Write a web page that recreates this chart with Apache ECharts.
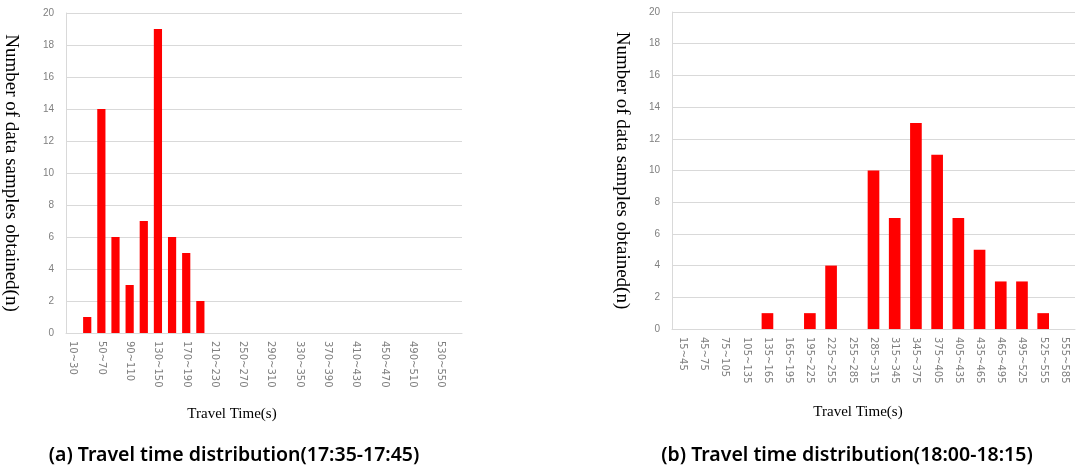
<!DOCTYPE html>
<html>
<head>
<meta charset="utf-8">
<script src="https://cdn.jsdelivr.net/npm/echarts@6/dist/echarts.min.js"></script>
<style>
  html, body { margin: 0; padding: 0; background: #fff; }
  #chart { width: 1076px; height: 468px; }
</style>
</head>
<body>
<div id="chart"></div>
<script>
// (a) 17:35-17:45, bins of 20 s (last bin carries no label)
const binsA = ["10~30", "30~50", "50~70", "70~90", "90~110", "110~130", "130~150", "150~170",
  "170~190", "190~210", "210~230", "230~250", "250~270", "270~290", "290~310", "310~330",
  "330~350", "350~370", "370~390", "390~410", "410~430", "430~450", "450~470", "470~490",
  "490~510", "510~530", "530~550", "550~570"];
const countsA = [0, 1, 14, 6, 3, 7, 19, 6, 5, 2, 0, 0, 0, 0, 0, 0, 0, 0, 0, 0, 0, 0, 0, 0, 0, 0, 0, 0];

// (b) 18:00-18:15, bins of 30 s
const binsB = ["15~45", "45~75", "75~105", "105~135", "135~165", "165~195", "195~225", "225~255",
  "255~285", "285~315", "315~345", "345~375", "375~405", "405~435", "435~465", "465~495",
  "495~525", "525~555", "555~585"];
const countsB = [0, 0, 0, 0, 1, 0, 1, 4, 0, 10, 7, 13, 11, 7, 5, 3, 3, 1, 0];

const yTicks = { min: 0, max: 20, interval: 2 };
const captions = ["(a) Travel time distribution(17:35-17:45)", "(b) Travel time distribution(18:00-18:15)"];

const chart = echarts.init(document.getElementById("chart"));

const gray = "#d9d9d9";
const labelGray = "#7f7f7f";
const serif = "'Liberation Serif', 'DejaVu Serif', serif";

function xAxisFor(idx, cats, every) {
  return {
    type: "category",
    gridIndex: idx,
    data: cats,
    axisTick: { show: false },
    axisLine: { lineStyle: { color: gray } },
    axisLabel: {
      rotate: -90,
      interval: every,
      color: labelGray,
      fontSize: 10,
      fontFamily: "'DejaVu Sans', sans-serif",
      margin: 8,
    },
  };
}

function yAxisFor(idx, gap) {
  return {
    type: "value",
    gridIndex: idx,
    ...yTicks,
    name: "Number of data samples obtained(n)",
    nameLocation: "middle",
    nameRotate: -90,
    nameGap: gap,
    nameTextStyle: { fontFamily: serif, fontSize: 19, color: "#000" },
    axisLine: { show: true, lineStyle: { color: gray } },
    axisTick: { show: false },
    splitLine: { lineStyle: { color: gray } },
    axisLabel: { color: labelGray, fontSize: 10, margin: 12 },
  };
}

function barSeries(idx, values, width) {
  return {
    type: "bar",
    xAxisIndex: idx,
    yAxisIndex: idx,
    data: values,
    barWidth: width,
    itemStyle: { color: "#ff0000" },
  };
}

chart.setOption({
  animation: false,
  grid: [
    { left: 64, right: 614, top: 13, bottom: 135 },
    { left: 672, right: 1, top: 12, bottom: 139 },
  ],
  xAxis: [xAxisFor(0, binsA, 1), xAxisFor(1, binsB, 0)],
  yAxis: [yAxisFor(0, 46), yAxisFor(1, 41)],
  series: [barSeries(0, countsA, "58%"), barSeries(1, countsB, "55%")],
  title: [
    { text: "Travel Time(s)", left: 227, top: 402, textAlign: "center",
      textStyle: { fontFamily: serif, fontSize: 15, fontWeight: "normal", color: "#000" } },
    { text: "Travel Time(s)", left: 853, top: 400, textAlign: "center",
      textStyle: { fontFamily: serif, fontSize: 15, fontWeight: "normal", color: "#000" } },
    { text: captions[0], left: 229, top: 440, textAlign: "center",
      textStyle: { fontFamily: "'Noto Sans', sans-serif", fontSize: 19.5, fontWeight: 600, color: "#000" } },
    { text: captions[1], left: 842, top: 440, textAlign: "center",
      textStyle: { fontFamily: "'Noto Sans', sans-serif", fontSize: 19.5, fontWeight: 600, color: "#000" } },
  ],
});

window.addEventListener("resize", () => chart.resize());
</script>
</body>
</html>
